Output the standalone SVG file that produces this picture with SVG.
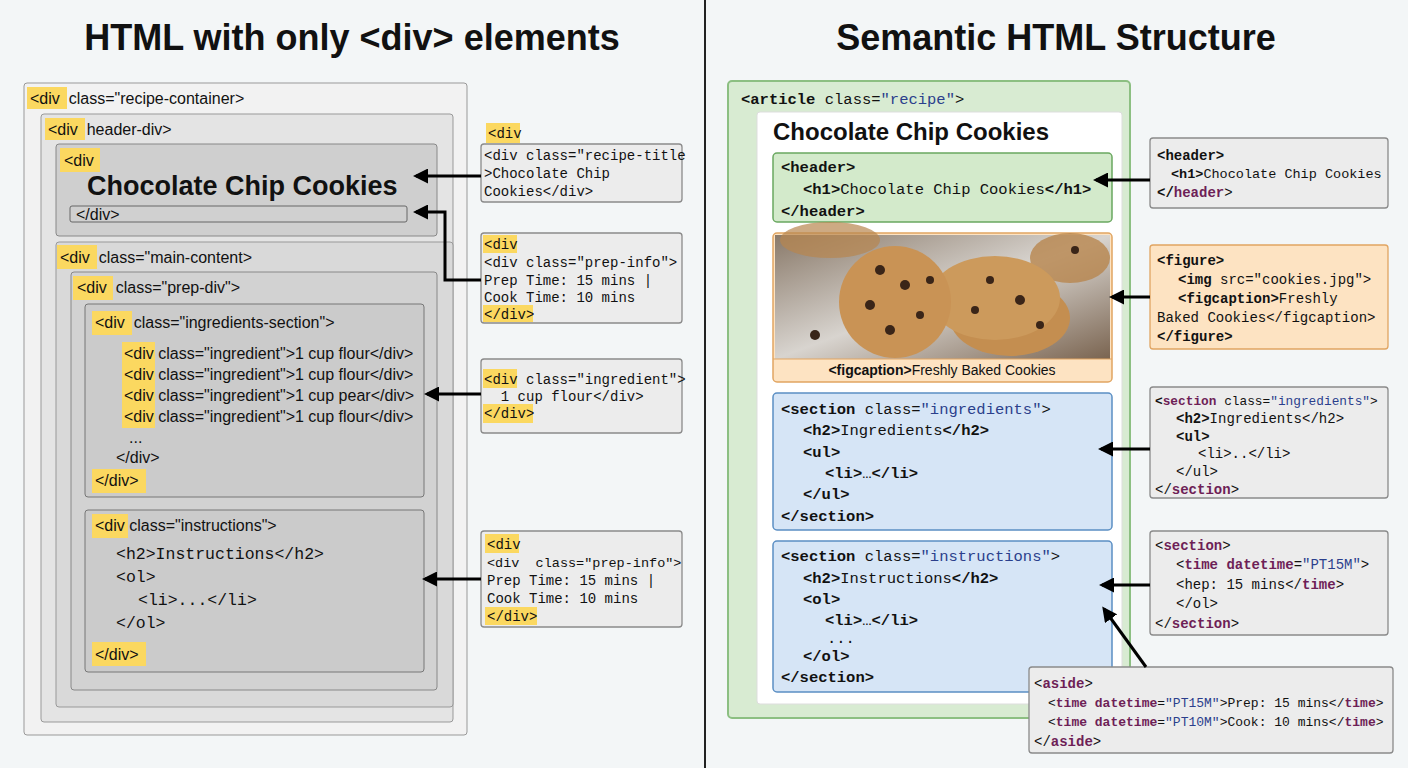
<svg xmlns="http://www.w3.org/2000/svg" width="1408" height="768" viewBox="0 0 1408 768">
<defs>
<style>
text{white-space:pre}
.title{font-family:"Liberation Sans",Arial,sans-serif;font-weight:bold;font-size:36px;fill:#111}
.s{font-family:"Liberation Sans",Arial,sans-serif;font-size:16px;fill:#111}
.m{font-family:"Liberation Mono","DejaVu Sans Mono",monospace;font-size:14px;fill:#111}
.mr{font-family:"Liberation Mono","DejaVu Sans Mono",monospace;font-size:15.5px;fill:#111}
.b{font-weight:bold}
.v{fill:#2b3f8c}
.t{fill:#6e1f57;font-weight:bold}
.yl{fill:#fbd860}
.gbox{fill:#ececec;stroke:#8a8a8a;stroke-width:1.3}
.conn line,.conn polyline{stroke:#000;stroke-width:3;fill:none}
</style>
<marker id="ah" viewBox="0 0 10 10" refX="8" refY="5" markerWidth="5" markerHeight="5" orient="auto"><path d="M0,0 L10,5 L0,10 z" fill="#000"/></marker>
<linearGradient id="bg" x1="0" y1="0" x2="1" y2="1"><stop offset="0" stop-color="#8a7a6a"/><stop offset="0.5" stop-color="#d8d4cf"/><stop offset="1" stop-color="#7a6450"/></linearGradient>
</defs>
<rect width="1408" height="768" fill="#f3f6f7"/>
<line x1="705" y1="0" x2="705" y2="768" stroke="#222" stroke-width="2"/>
<text class="title" x="352" y="50" text-anchor="middle">HTML with only &lt;div&gt; elements</text>
<text class="title" x="1056" y="50" text-anchor="middle">Semantic HTML Structure</text>

<g id="recipe-container">
<rect x="24" y="83" width="443" height="652" rx="3" fill="#f2f2f2" stroke="#999"/>
<rect class="yl" x="27" y="87" width="40" height="22"/>
<text class="s" x="30" y="104">&lt;div  class="recipe-container&gt;</text>
</g>
<g id="header-div">
<rect x="41" y="114" width="412" height="608" rx="3" fill="#e4e4e4" stroke="#999"/>
<rect class="yl" x="45" y="118" width="40" height="22"/>
<text class="s" x="48" y="135">&lt;div  header-div&gt;</text>
</g>
<g id="title-div">
<rect x="56" y="144" width="381" height="92" rx="3" fill="#cfcfcf" stroke="#888"/>
<rect class="yl" x="60" y="148" width="40" height="24"/>
<text class="s" x="64" y="166">&lt;div</text>
<text x="87" y="195" font-family="Liberation Sans,Arial,sans-serif" font-weight="bold" font-size="27" fill="#111">Chocolate Chip Cookies</text>
<rect x="70" y="206" width="337" height="16" rx="2" fill="#d0d0d0" stroke="#666"/>
<text class="s" x="76" y="220">&lt;/div&gt;</text>
</g>
<g id="main-content">
<rect x="56" y="242" width="397" height="465" rx="3" fill="#d9d9d9" stroke="#999"/>
<rect class="yl" x="57" y="245" width="40" height="24"/>
<text class="s" x="60" y="263">&lt;div  class="main-content&gt;</text>
</g>
<g id="prep-div">
<rect x="71" y="272" width="366" height="418" rx="3" fill="#d2d2d2" stroke="#888"/>
<rect class="yl" x="73" y="276" width="40" height="24"/>
<text class="s" x="77" y="293">&lt;div  class="prep-div"&gt;</text>
</g>
<g id="ingredients-section">
<rect x="85" y="304" width="339" height="193" rx="3" fill="#cbcbcb" stroke="#777"/>
<rect class="yl" x="92" y="311" width="40" height="24"/>
<text class="s" x="95" y="328">&lt;div  class="ingredients-section"&gt;</text>
<rect class="yl" x="122" y="342" width="33" height="22"/>
<rect class="yl" x="122" y="364" width="33" height="22"/>
<rect class="yl" x="122" y="385" width="33" height="22"/>
<rect class="yl" x="122" y="406" width="33" height="22"/>
<text class="s" x="124" y="359">&lt;div class="ingredient"&gt;1 cup flour&lt;/div&gt;</text>
<text class="s" x="124" y="380">&lt;div class="ingredient"&gt;1 cup flour&lt;/div&gt;</text>
<text class="s" x="124" y="401">&lt;div class="ingredient"&gt;1 cup pear&lt;/div&gt;</text>
<text class="s" x="124" y="422">&lt;div class="ingredient"&gt;1 cup flour&lt;/div&gt;</text>
<text class="s" x="129" y="443">...</text>
<text class="s" x="116" y="463">&lt;/div&gt;</text>
<rect class="yl" x="92" y="469" width="54" height="24"/>
<text class="s" x="95" y="486">&lt;/div&gt;</text>
</g>
<g id="instructions-div">
<rect x="85" y="510" width="339" height="162" rx="3" fill="#cbcbcb" stroke="#777"/>
<rect class="yl" x="92" y="514" width="36" height="24"/>
<text class="s" x="95" y="531">&lt;div class="instructions"&gt;</text>
<text class="m" x="116" y="559" style="font-size:16.5px">&lt;h2&gt;Instructions&lt;/h2&gt;</text>
<text class="m" x="116" y="582" style="font-size:16.5px">&lt;ol&gt;</text>
<text class="m" x="138" y="605" style="font-size:16.5px">&lt;li&gt;...&lt;/li&gt;</text>
<text class="m" x="116" y="628" style="font-size:16.5px">&lt;/ol&gt;</text>
<rect class="yl" x="92" y="642" width="54" height="24"/>
<text class="s" x="95" y="660">&lt;/div&gt;</text>
</g>

<g id="callout-title">
<rect class="yl" x="486" y="123" width="34" height="20"/>
<text class="m" x="488" y="138">&lt;div</text>
<rect class="gbox" x="481" y="144" width="201" height="58" rx="3"/>
<text class="m" x="484" y="160">&lt;div class="recipe-title</text>
<text class="m" x="484" y="178">&gt;Chocolate Chip</text>
<text class="m" x="484" y="196">Cookies&lt;/div&gt;</text>
</g>
<g id="callout-prep1">
<rect class="gbox" x="481" y="233" width="201" height="90" rx="3"/>
<rect class="yl" x="483" y="235" width="34" height="18"/>
<rect class="yl" x="483" y="305" width="50" height="17"/>
<text class="m" x="484" y="249">&lt;div</text>
<text class="m" x="484" y="267">&lt;div class="prep-info"&gt;</text>
<text class="m" x="484" y="285">Prep Time: 15 mins |</text>
<text class="m" x="484" y="302">Cook Time: 10 mins</text>
<text class="m" x="484" y="319">&lt;/div&gt;</text>
</g>
<g id="callout-ingredient">
<rect class="gbox" x="481" y="359" width="201" height="74" rx="3"/>
<rect class="yl" x="483" y="369" width="34" height="19"/>
<rect class="yl" x="483" y="404" width="50" height="19"/>
<text class="m" x="484" y="384">&lt;div class="ingredient"&gt;</text>
<text class="m" x="484" y="401">  1 cup flour&lt;/div&gt;</text>
<text class="m" x="484" y="418">&lt;/div&gt;</text>
</g>
<g id="callout-prep2">
<rect class="gbox" x="481" y="531" width="201" height="96" rx="3"/>
<rect class="yl" x="485" y="534" width="34" height="19"/>
<rect class="yl" x="485" y="607" width="52" height="18"/>
<text class="m" x="487" y="549">&lt;div</text>
<text class="m" x="487" y="567" style="font-size:13.5px">&lt;div  class="prep-info"&gt;</text>
<text class="m" x="487" y="585">Prep Time: 15 mins |</text>
<text class="m" x="487" y="603">Cook Time: 10 mins</text>
<text class="m" x="487" y="621">&lt;/div&gt;</text>
</g>

<g id="article">
<rect x="728" y="81" width="402" height="637" rx="4" fill="#d8ebd2" stroke="#8cbf82" stroke-width="2"/>
<text class="mr" x="741" y="104"><tspan class="b">&lt;article</tspan> class=<tspan class="v">"recipe"</tspan>&gt;</text>
<rect x="757" y="112" width="365" height="592" rx="3" fill="#fff" stroke="#ddd"/>
<text x="773" y="140" font-family="Liberation Sans,Arial,sans-serif" font-weight="bold" font-size="24" fill="#111">Chocolate Chip Cookies</text>
</g>
<g id="header">
<rect x="773" y="153" width="339" height="69" rx="4" fill="#d3eacb" stroke="#6aa860" stroke-width="1.5"/>
<text class="mr" x="781" y="172"><tspan class="b">&lt;header&gt;</tspan></text>
<text class="mr" x="803" y="194"><tspan class="b">&lt;h1&gt;</tspan>Chocolate Chip Cookies<tspan class="b">&lt;/h1&gt;</tspan></text>
<text class="mr" x="781" y="216"><tspan class="b">&lt;/header&gt;</tspan></text>
</g>
<g id="figure">
<rect x="773" y="233" width="339" height="149" rx="4" fill="#fde3c2" stroke="#e1a562" stroke-width="1.5"/>
<rect x="775" y="235" width="335" height="124" fill="url(#bg)"/>
<ellipse cx="830" cy="240" rx="50" ry="18" fill="#b8864e" opacity="0.7"/>
<ellipse cx="1070" cy="258" rx="40" ry="25" fill="#b8864e" opacity="0.8"/>
<ellipse cx="1010" cy="318" rx="60" ry="38" fill="#c48e50"/>
<ellipse cx="995" cy="298" rx="65" ry="42" fill="#cc9a5c"/>
<circle cx="895" cy="302" r="56" fill="#c99355"/>
<g fill="#3a2518"><circle cx="880" cy="270" r="5"/><circle cx="905" cy="285" r="5"/><circle cx="870" cy="305" r="5"/><circle cx="920" cy="315" r="4"/><circle cx="890" cy="330" r="5"/><circle cx="930" cy="280" r="4"/><circle cx="990" cy="280" r="4"/><circle cx="1020" cy="300" r="5"/><circle cx="1040" cy="325" r="4"/><circle cx="975" cy="310" r="4"/><circle cx="1075" cy="250" r="4"/><circle cx="815" cy="335" r="5"/></g>
<line x1="773" y1="359" x2="1112" y2="359" stroke="#e1a562"/>
<text x="942" y="375" text-anchor="middle" font-family="Liberation Sans,Arial,sans-serif" font-size="14" fill="#111"><tspan font-weight="bold">&lt;figcaption&gt;</tspan>Freshly Baked Cookies</text>
</g>
<g id="section-ingredients">
<rect x="773" y="393" width="339" height="137" rx="4" fill="#d6e5f6" stroke="#5b8fc4" stroke-width="1.5"/>
<text class="mr" x="781" y="414"><tspan class="b">&lt;section</tspan> class=<tspan class="v">"ingredients"</tspan>&gt;</text>
<text class="mr" x="803" y="435"><tspan class="b">&lt;h2&gt;</tspan>Ingredients<tspan class="b">&lt;/h2&gt;</tspan></text>
<text class="mr" x="803" y="457"><tspan class="b">&lt;ul&gt;</tspan></text>
<text class="mr" x="825" y="478"><tspan class="b">&lt;li&gt;</tspan>…<tspan class="b">&lt;/li&gt;</tspan></text>
<text class="mr" x="803" y="499"><tspan class="b">&lt;/ul&gt;</tspan></text>
<text class="mr" x="781" y="521"><tspan class="b">&lt;/section&gt;</tspan></text>
</g>
<g id="section-instructions">
<rect x="773" y="541" width="339" height="151" rx="4" fill="#d6e5f6" stroke="#5b8fc4" stroke-width="1.5"/>
<text class="mr" x="781" y="561"><tspan class="b">&lt;section</tspan> class=<tspan class="v">"instructions"</tspan>&gt;</text>
<text class="mr" x="803" y="583"><tspan class="b">&lt;h2&gt;</tspan>Instructions<tspan class="b">&lt;/h2&gt;</tspan></text>
<text class="mr" x="803" y="604"><tspan class="b">&lt;ol&gt;</tspan></text>
<text class="mr" x="825" y="625"><tspan class="b">&lt;li&gt;</tspan>…<tspan class="b">&lt;/li&gt;</tspan></text>
<text class="mr" x="827" y="643">...</text>
<text class="mr" x="803" y="661"><tspan class="b">&lt;/ol&gt;</tspan></text>
<text class="mr" x="781" y="682"><tspan class="b">&lt;/section&gt;</tspan></text>
</g>

<g id="callout-header">
<rect class="gbox" x="1150" y="138" width="238" height="70" rx="3"/>
<text class="m" x="1157" y="160"><tspan class="b">&lt;header&gt;</tspan></text>
<text class="m" x="1171" y="178" style="font-size:13.5px"><tspan class="b">&lt;h1&gt;</tspan>Chocolate Chip Cookies</text>
<text class="m" x="1157" y="197"><tspan class="b">&lt;/</tspan><tspan class="t">header</tspan>&gt;</text>
</g>
<g id="callout-figure">
<rect x="1150" y="245" width="238" height="104" rx="3" fill="#fde3c2" stroke="#e1a562" stroke-width="1.3"/>
<text class="m" x="1157" y="265"><tspan class="b">&lt;figure&gt;</tspan></text>
<text class="m" x="1178" y="284"><tspan class="b">&lt;img</tspan> src="cookies.jpg"&gt;</text>
<text class="m" x="1178" y="303"><tspan class="b">&lt;figcaption&gt;</tspan>Freshly</text>
<text class="m" x="1157" y="322">Baked Cookies&lt;/figcaption&gt;</text>
<text class="m" x="1157" y="341"><tspan class="b">&lt;/figure&gt;</tspan></text>
</g>
<g id="callout-ingredients">
<rect class="gbox" x="1150" y="387" width="238" height="111" rx="3"/>
<text class="m" x="1155" y="405" style="font-size:12.8px"><tspan class="b">&lt;</tspan><tspan class="t">section</tspan> class=<tspan class="v">"ingredients"</tspan>&gt;</text>
<text class="m" x="1176" y="423"><tspan class="b">&lt;h2&gt;</tspan>Ingredients&lt;/h2&gt;</text>
<text class="m" x="1176" y="441"><tspan class="b">&lt;ul&gt;</tspan></text>
<text class="m" x="1198" y="458">&lt;li&gt;..&lt;/li&gt;</text>
<text class="m" x="1176" y="476">&lt;/ul&gt;</text>
<text class="m" x="1155" y="494">&lt;/<tspan class="t">section</tspan>&gt;</text>
</g>
<g id="callout-section">
<rect class="gbox" x="1150" y="531" width="238" height="104" rx="3"/>
<text class="m" x="1155" y="550">&lt;<tspan class="t">section</tspan>&gt;</text>
<text class="m" x="1176" y="569">&lt;<tspan class="t">time datetime</tspan>=<tspan class="v">"PT15M"</tspan>&gt;</text>
<text class="m" x="1176" y="589">&lt;hep: 15 mins&lt;/<tspan class="t">time</tspan>&gt;</text>
<text class="m" x="1176" y="608">&lt;/ol&gt;</text>
<text class="m" x="1155" y="628">&lt;/<tspan class="t">section</tspan>&gt;</text>
</g>
<g id="callout-aside">
<rect class="gbox" x="1029" y="667" width="364" height="86" rx="3"/>
<text class="m" x="1034" y="688">&lt;<tspan class="t">aside</tspan>&gt;</text>
<text class="m" x="1048" y="707" style="font-size:13px">&lt;<tspan class="t">time datetime</tspan>=<tspan class="v">"PT15M"</tspan>&gt;Prep: 15 mins&lt;/<tspan class="t">time</tspan>&gt;</text>
<text class="m" x="1048" y="726" style="font-size:13px">&lt;<tspan class="t">time datetime</tspan>=<tspan class="v">"PT10M"</tspan>&gt;Cook: 10 mins&lt;/<tspan class="t">time</tspan>&gt;</text>
<text class="m" x="1034" y="746">&lt;/<tspan class="t">aside</tspan>&gt;</text>
</g>

<g id="connectors" class="conn">
<line x1="481" y1="176" x2="416" y2="176" marker-end="url(#ah)"/>
<polyline points="481,280 445,280 445,212 416,212" marker-end="url(#ah)"/>
<line x1="481" y1="394" x2="427" y2="394" marker-end="url(#ah)"/>
<line x1="481" y1="579" x2="425" y2="579" marker-end="url(#ah)"/>
<line x1="1150" y1="180" x2="1096" y2="180" marker-end="url(#ah)"/>
<line x1="1150" y1="297" x2="1112" y2="297" marker-end="url(#ah)"/>
<line x1="1150" y1="449" x2="1101" y2="449" marker-end="url(#ah)"/>
<line x1="1150" y1="585" x2="1102" y2="585" marker-end="url(#ah)"/>
<line x1="1146" y1="667" x2="1104" y2="609" marker-end="url(#ah)"/>
</g>
</svg>
